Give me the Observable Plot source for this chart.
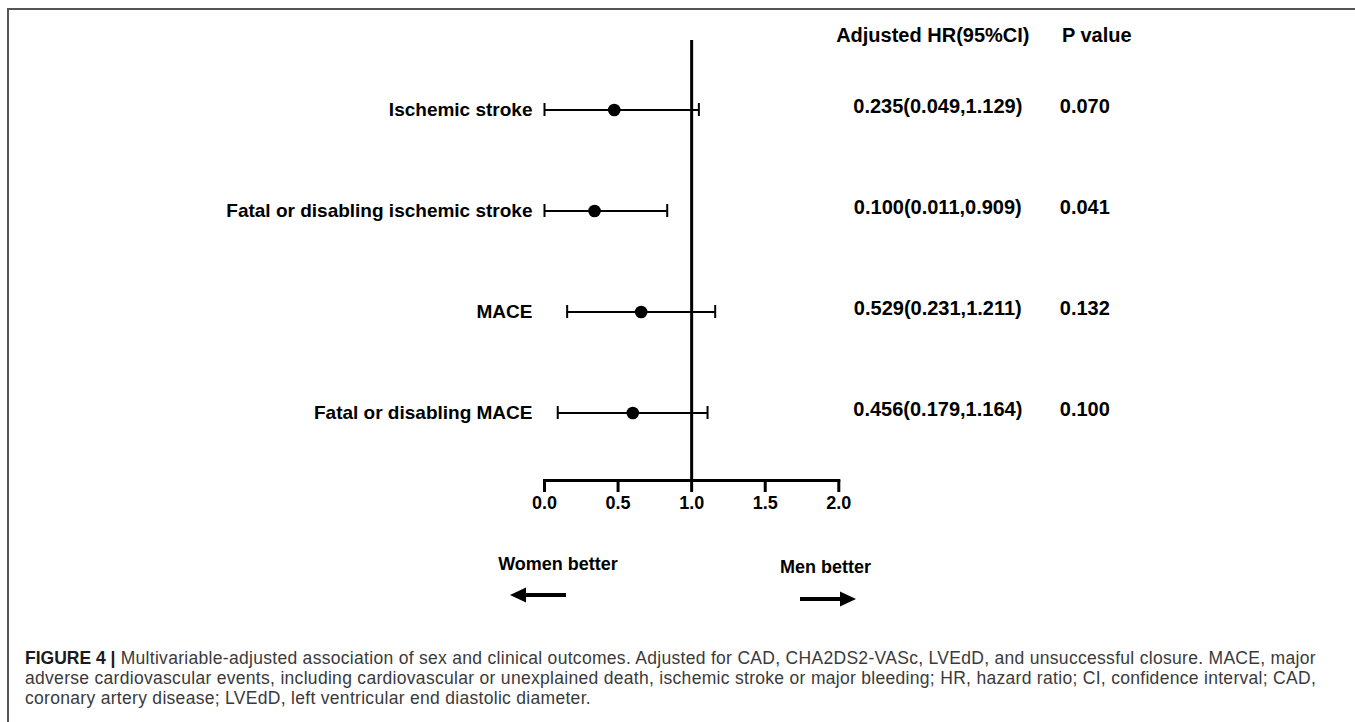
<!DOCTYPE html>
<html>
<head>
<meta charset="utf-8">
<script src="https://cdn.jsdelivr.net/npm/d3@7"></script>
<script src="https://cdn.jsdelivr.net/npm/@observablehq/plot@0.6"></script>
<style>
  html, body { margin: 0; padding: 0; background: #fff; }
  body { width: 1355px; height: 722px; position: relative; overflow: hidden; font-family: "Liberation Sans", Arial, sans-serif; }
  #border { position: absolute; left: 7px; top: 8px; width: 1400px; height: 800px; border-left: 2px solid #555; border-top: 2px solid #555; box-sizing: border-box; }
  #chart { position: absolute; left: 0; top: 0; }
  #notes { position: absolute; left: 0; top: 0; width: 1355px; height: 640px; pointer-events: none; }
  #caption { position: absolute; left: 25px; top: 648px; font-size: 17.5px; letter-spacing: 0.3px; line-height: 20px; color: #3a3a3a; white-space: nowrap; }
  #caption b { color: #1a1a1a; letter-spacing: 0; }
</style>
</head>
<body>
<div id="border"></div>
<div id="chart"></div>
<svg id="notes" width="1355" height="640"></svg>
<div id="caption"></div>
<script>
// ---- data ----
const outcomes = ["Ischemic stroke", "Fatal or disabling ischemic stroke", "MACE", "Fatal or disabling MACE"];
const hrDrawn = [0.474, 0.340, 0.657, 0.600];
const loDrawn = [0.000, 0.000, 0.154, 0.090];
const hiDrawn = [1.049, 0.834, 1.160, 1.108];
const hrLabels = ["0.235(0.049,1.129)", "0.100(0.011,0.909)", "0.529(0.231,1.211)", "0.456(0.179,1.164)"];
const pLabels = ["0.070", "0.041", "0.132", "0.100"];
const xTicks = [0, 0.5, 1.0, 1.5, 2.0];
const headers = ["Adjusted HR(95%CI)", "P value"];
const sideLabels = ["Women better", "Men better"];
const captionLines = [
  "Multivariable-adjusted association of sex and clinical outcomes. Adjusted for CAD, CHA2DS2-VASc, LVEdD, and unsuccessful closure. MACE, major",
  "adverse cardiovascular events, including cardiovascular or unexplained death, ischemic stroke or major bleeding; HR, hazard ratio; CI, confidence interval; CAD,",
  "coronary artery disease; LVEdD, left ventricular end diastolic diameter."
];

const rows = outcomes.map((name, i) => ({name, hr: hrDrawn[i], lo: loDrawn[i], hi: hiDrawn[i], hrText: hrLabels[i], p: pLabels[i]}));

const font = "Liberation Sans, Arial, sans-serif";

const chart = Plot.plot({
  width: 1355,
  height: 620,
  marginLeft: 544,
  marginRight: 516.7,
  marginTop: 40,
  marginBottom: 140,
  style: {fontFamily: font, fontWeight: "bold", color: "#000", background: "transparent", overflow: "visible"},
  x: {domain: [0, 2], axis: null},
  y: {domain: outcomes, type: "band", paddingInner: 0.872, paddingOuter: 0.605, align: 0.51, axis: null},
  marks: [
    Plot.frame({anchor: "bottom", stroke: "#000", strokeWidth: 3}),
    Plot.axisX({ticks: xTicks, tickFormat: d3.format(".1f"), tickSize: 12, tickPadding: 4, strokeWidth: 3, stroke: "#000", fontSize: 18, fontWeight: "bold", label: null}),
    Plot.ruleX([1], {stroke: "#000", strokeWidth: 3}),
    Plot.ruleY(rows, {y: "name", x1: "lo", x2: "hi", stroke: "#000", strokeWidth: 2}),
    Plot.tickX(rows, {y: "name", x: "lo", stroke: "#000", strokeWidth: 2}),
    Plot.tickX(rows, {y: "name", x: "hi", stroke: "#000", strokeWidth: 2}),
    Plot.dot(rows, {y: "name", x: "hr", r: 6.3, fill: "#000", stroke: null}),
    Plot.text(rows, {y: "name", text: "name", frameAnchor: "left", textAnchor: "end", dx: -12, fontSize: 19, fontWeight: "bold", fill: "#000"}),
    Plot.text(rows, {y: "name", text: "hrText", frameAnchor: "right", textAnchor: "middle", dx: 99, dy: -3, fontSize: 20, fontWeight: "bold", fill: "#000"}),
    Plot.text(rows, {y: "name", text: "p", frameAnchor: "right", textAnchor: "middle", dx: 246, dy: -3, fontSize: 20, fontWeight: "bold", fill: "#000"}),
    Plot.text([headers[0]], {text: d => d, frameAnchor: "top-right", textAnchor: "middle", lineAnchor: "middle", dx: 94, dy: -5, fontSize: 20, fontWeight: "bold", fill: "#000"}),
    Plot.text([headers[1]], {text: d => d, frameAnchor: "top-right", textAnchor: "middle", lineAnchor: "middle", dx: 258, dy: -5, fontSize: 20, fontWeight: "bold", fill: "#000"}),
    Plot.text([sideLabels[0]], {text: d => d, frameAnchor: "bottom-left", textAnchor: "middle", lineAnchor: "middle", dx: 13.5, dy: 84, fontSize: 18, fontWeight: "bold", fill: "#000"}),
    Plot.text([sideLabels[1]], {text: d => d, frameAnchor: "bottom-left", textAnchor: "middle", lineAnchor: "middle", dx: 281, dy: 87, fontSize: 18, fontWeight: "bold", fill: "#000"})
  ]
});
document.getElementById("chart").appendChild(chart);

// direction arrows (decorative annotation)
const notes = d3.select("#notes");
function arrow(tail, tip, y) {
  const dir = Math.sign(tip - tail);
  const head = 16;
  notes.append("line").attr("x1", tail).attr("x2", tip - dir * head + dir * 1).attr("y1", y).attr("y2", y)
    .attr("stroke", "#000").attr("stroke-width", 4);
  notes.append("path")
    .attr("d", `M${tip},${y} L${tip - dir * head},${y - 7.5} L${tip - dir * head},${y + 7.5} Z`)
    .attr("fill", "#000");
}
arrow(566, 510, 595);
arrow(800, 856, 599);

// caption
const cap = document.getElementById("caption");
cap.innerHTML = "<b>FIGURE 4 |</b> " + captionLines[0] + "<br>" + captionLines[1] + "<br>" + captionLines[2];
</script>
</body>
</html>
